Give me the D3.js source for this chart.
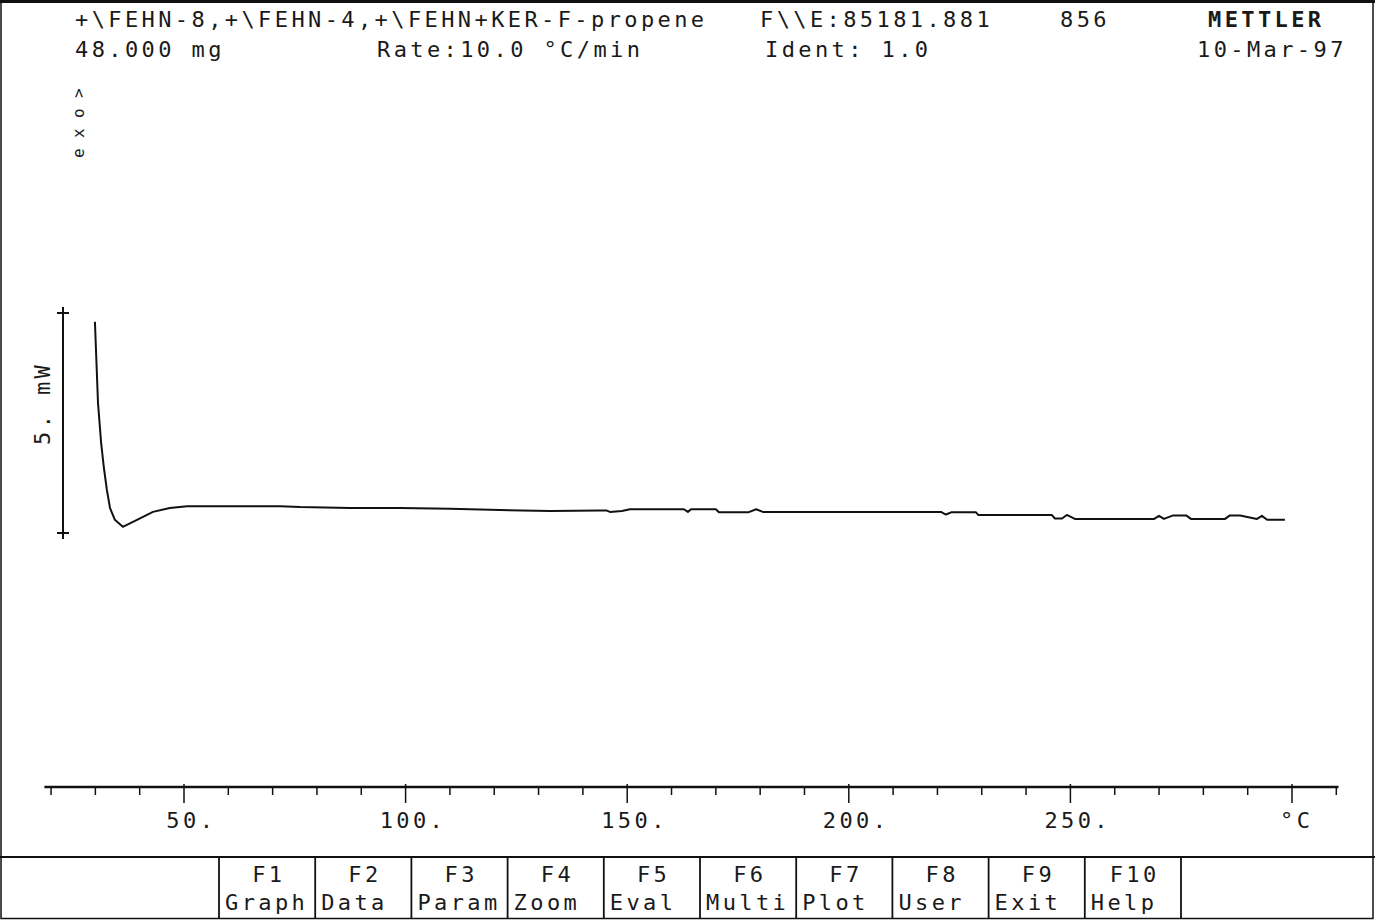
<!DOCTYPE html>
<html><head><meta charset="utf-8">
<script src="https://cdn.jsdelivr.net/npm/d3@7"></script>
<style>
html,body{margin:0;padding:0;background:#fff;}
svg{display:block;}
text{font-family:"DejaVu Sans Mono",monospace;fill:#1a1a1a;}
</style></head>
<body>
<svg id="c" width="1375" height="920"></svg>
<script>
// ---- data ----
const temperature = [29.9, 30.6, 31.3, 31.9, 32.6, 33.3, 34.4, 36.2, 39.4, 43.0, 46.8, 50.7, 60.4, 71.7, 76.2, 87.5, 98.7, 110.0, 121.3, 132.6, 143.9, 145.4, 146.1, 148.8, 150.6, 162.8, 163.7, 164.4, 170.0, 170.7, 177.3, 179.1, 180.6, 187.4, 188.5, 220.8, 221.9, 223.1, 228.7, 229.2, 245.8, 246.5, 248.1, 249.2, 251.0, 268.9, 270.0, 271.1, 273.2, 276.1, 277.2, 284.9, 286.0, 288.3, 292.1, 293.2, 294.4, 298.4];
const heatFlow = [4.80, 2.95, 2.05, 1.50, 0.98, 0.57, 0.30, 0.14, 0.30, 0.48, 0.57, 0.61, 0.61, 0.61, 0.59, 0.57, 0.57, 0.55, 0.52, 0.50, 0.51, 0.51, 0.48, 0.50, 0.54, 0.54, 0.48, 0.54, 0.54, 0.47, 0.47, 0.54, 0.48, 0.48, 0.48, 0.48, 0.42, 0.47, 0.47, 0.41, 0.41, 0.33, 0.33, 0.41, 0.32, 0.32, 0.39, 0.32, 0.40, 0.40, 0.32, 0.32, 0.40, 0.40, 0.32, 0.39, 0.30, 0.30];
const xMajorTicks = [50, 100, 150, 200, 250, 300];
const xMajorLabels = ["50.", "100.", "150.", "200.", "250.", "°C"];
const xMinorTicks = [20, 30, 40, 60, 70, 80, 90, 110, 120, 130, 140, 160, 170, 180, 190, 210, 220, 230, 240, 260, 270, 280, 290, 310];
const scaleBarValues = [0, 5];
const scaleBarLabel = "5. mW";
const exoLabel = "exo>";
const headerLine1 = ["+\\FEHN-8,+\\FEHN-4,+\\FEHN+KER-F-propene", "F\\\\E:85181.881", "856", "METTLER"];
const headerLine2 = ["48.000 mg", "Rate:10.0 °C/min", "Ident: 1.0", "10-Mar-97"];
const keyNames = ["F1", "F2", "F3", "F4", "F5", "F6", "F7", "F8", "F9", "F10"];
const keyLabels = ["Graph", "Data", "Param", "Zoom", "Eval", "Multi", "Plot", "User", "Exit", "Help"];

// ---- drawing ----
const svg = d3.select("#c");
const W = 1375, H = 920;
const FS = 22, LS = 3.4; // font size / letter spacing (mono, ~16.6px per char)
const charW = FS * 0.602 + LS;

// frame
svg.append("rect").attr("x", 1).attr("y", 1.5).attr("width", 1372).attr("height", 917)
  .attr("fill", "none").attr("stroke", "#111").attr("stroke-width", 1.5);
svg.append("line").attr("x1", 0).attr("x2", 1375).attr("y1", 1.5).attr("y2", 1.5)
  .attr("stroke", "#111").attr("stroke-width", 3);

const x = d3.scaleLinear().domain([50, 300]).range([184, 1292]);
const y = d3.scaleLinear().domain([0, 5]).range([533, 313]);

// header
const h1x = [75, 760, 1060, 1208];
const h2x = [75, 377, 765, 1197];
svg.append("g").selectAll("text").data(headerLine1).join("text")
  .attr("x", (d, i) => h1x[i]).attr("y", 27)
  .attr("font-size", FS).attr("letter-spacing", LS)
  .attr("font-weight", (d, i) => i === 3 ? "bold" : "normal")
  .text(d => d);
svg.append("g").selectAll("text").data(headerLine2).join("text")
  .attr("x", (d, i) => h2x[i]).attr("y", 57)
  .attr("font-size", FS).attr("letter-spacing", LS)
  .text(d => d);

// exo label (rotated)
svg.append("text").attr("transform", "translate(84,158) rotate(-90)")
  .attr("font-size", 16).attr("letter-spacing", 10.4).text(exoLabel);

// scale bar
const sb = svg.append("g").attr("stroke", "#111").attr("stroke-width", 2);
sb.append("line").attr("x1", 63).attr("x2", 63)
  .attr("y1", y(scaleBarValues[0])).attr("y2", y(scaleBarValues[1]));
scaleBarValues.forEach(v => {
  sb.append("line").attr("x1", 57).attr("x2", 69).attr("y1", y(v)).attr("y2", y(v));
  sb.append("line").attr("x1", 63).attr("x2", 63).attr("y1", y(v) - 6).attr("y2", y(v) + 6);
});
svg.append("text").attr("transform", `translate(50,${y(0) - 88}) rotate(-90)`)
  .attr("font-size", FS).attr("letter-spacing", LS).text(scaleBarLabel);

// curve
const line = d3.line().x(d => x(d[0])).y(d => y(d[1]));
svg.append("path").datum(temperature.map((t, i) => [t, heatFlow[i]]))
  .attr("d", line).attr("fill", "none").attr("stroke", "#111")
  .attr("stroke-width", 2).attr("stroke-linejoin", "round");

// x axis
const axisY = 787;
const xa = svg.append("g").attr("stroke", "#111");
xa.append("line").attr("x1", x(18.5)).attr("x2", x(310.5)).attr("y1", axisY).attr("y2", axisY).attr("stroke-width", 2.5);
xa.selectAll(".mn").data(xMinorTicks).join("line").attr("class", "mn")
  .attr("x1", d => x(d)).attr("x2", d => x(d)).attr("y1", axisY).attr("y2", axisY + 8).attr("stroke-width", 1.5);
xa.selectAll(".mj").data(xMajorTicks).join("line").attr("class", "mj")
  .attr("x1", d => x(d)).attr("x2", d => x(d)).attr("y1", axisY - 3).attr("y2", axisY + 16).attr("stroke-width", 1.5);
svg.append("g").selectAll("text").data(xMajorTicks).join("text")
  .attr("x", (d, i) => {
    const lab = xMajorLabels[i];
    if (lab === "°C") return x(d) - 12;
    const digits = lab.replace(".", "").length;
    return x(d) - digits * charW / 2 - 1;
  })
  .attr("y", 828).attr("font-size", FS).attr("letter-spacing", LS)
  .text((d, i) => xMajorLabels[i]);

// function key bar
const kb = d3.scaleBand().domain(keyNames).range([219, 1181]);
const kg = svg.append("g");
kg.append("line").attr("x1", 0).attr("x2", W).attr("y1", 857).attr("y2", 857).attr("stroke", "#111").attr("stroke-width", 2);
const dividers = keyNames.map(k => kb(k)).concat([kb(keyNames[keyNames.length - 1]) + kb.bandwidth()]);
kg.selectAll(".dv").data(dividers).join("line").attr("class", "dv")
  .attr("x1", d => d).attr("x2", d => d).attr("y1", 857).attr("y2", 918)
  .attr("stroke", "#111").attr("stroke-width", 1.8);
kg.selectAll(".kn").data(keyNames).join("text").attr("class", "kn")
  .attr("x", d => kb(d) + kb.bandwidth() / 2 + LS / 2).attr("y", 882)
  .attr("text-anchor", "middle").attr("font-size", FS).attr("letter-spacing", LS).text(d => d);
kg.selectAll(".kl").data(keyLabels).join("text").attr("class", "kl")
  .attr("x", (d, i) => kb(keyNames[i]) + 6).attr("y", 910)
  .attr("font-size", FS).attr("letter-spacing", LS).text(d => d);
</script>
</body></html>
